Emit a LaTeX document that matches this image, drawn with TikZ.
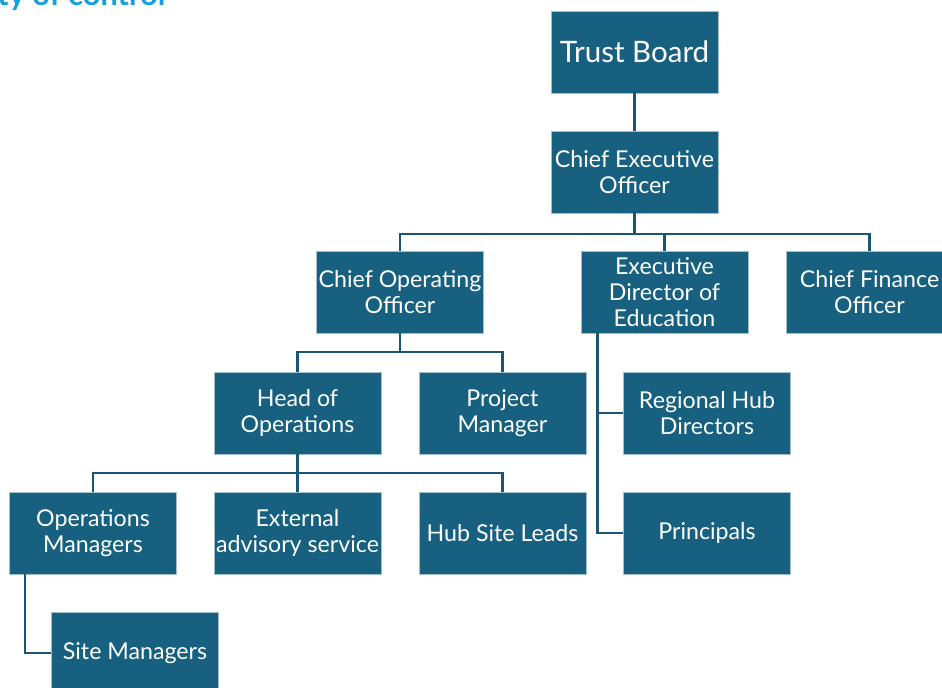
\documentclass[tikz,border=0pt]{standalone}
\usepackage{fontspec}
\setmainfont{Lato}
\definecolor{boxblue}{RGB}{23,96,127}
\definecolor{linkblue}{RGB}{26,86,115}
\definecolor{titleblue}{RGB}{20,160,222}
\tikzset{
  role/.style={fill=boxblue, draw=boxblue!40!white, line width=0.4pt, text=white,
    minimum width=3.34cm, minimum height=1.64cm, inner sep=1pt, align=center,
    font=\fontsize{13.2}{14.6}\selectfont},
  link/.style={draw=linkblue, line width=1.2pt}
}
\begin{document}
\begin{tikzpicture}[x=0.02cm, y=-0.02cm]
  \useasboundingbox (0, 0) rectangle (942, 687);
  \clip (0, 0) rectangle (942, 687);
  % title, cut by the top edge
  \node[anchor=base west, inner sep=0pt, text=titleblue, font=\fontsize{17.5}{20}\bfseries\selectfont] (title) at (-3, 5) {ty of control};
  % top of the chart
  \node[role, font=\fontsize{16.8}{19}\selectfont] (board) at (634.5, 52) {Trust Board};
  \node[role] (ceo) at (634.5, 172) {Chief Executive\\Officer};
  % third row
  \node[role] (coo) at (400, 292) {Chief Operating\\Officer};
  \node[role] (ede) at (664.5, 292) {Executive\\Director of\\Education};
  \node[role] (cfo) at (869.5, 292) {Chief Finance\\Officer};
  % operations
  \node[role] (hops) at (297.5, 413) {Head of\\Operations};
  \node[role] (pm) at (502.5, 413) {Project\\Manager};
  \node[role] (opsm) at (93, 533) {Operations\\Managers};
  \node[role] (ext) at (297.5, 533) {External\\advisory service};
  \node[role] (hsl) at (502.5, 533) {Hub Site Leads};
  \node[role] (sitem) at (135, 653) {Site Managers};
  % education
  \node[role] (rhd) at (707, 413) {Regional Hub\\Directors};
  \node[role] (prin) at (707, 533) {Principals};
  % links
  \draw[link] (board.south) -- (ceo.north);
  \draw[link] (ceo.south) -- ++(0, 21) coordinate (ceobar);
  \foreach \kid in {coo, ede, cfo}
    \draw[link] (\kid.north) |- (ceobar);
  \draw[link] (coo.south) -- ++(0, 19) coordinate (coobar);
  \foreach \kid in {hops, pm}
    \draw[link] (\kid.north) |- (coobar);
  \draw[link] (hops.south) -- ++(0, 19) coordinate (hopsbar);
  \foreach \kid in {opsm, ext, hsl}
    \draw[link] (\kid.north) |- (hopsbar);
  \draw[link] ([xshift=-67*0.02cm]ede.south) coordinate (edefoot) |- (prin.west);
  \draw[link] (edefoot |- rhd.west) -- (rhd.west);
  \draw[link] ([xshift=-68*0.02cm]opsm.south) |- (sitem.west);
\end{tikzpicture}
\end{document}
